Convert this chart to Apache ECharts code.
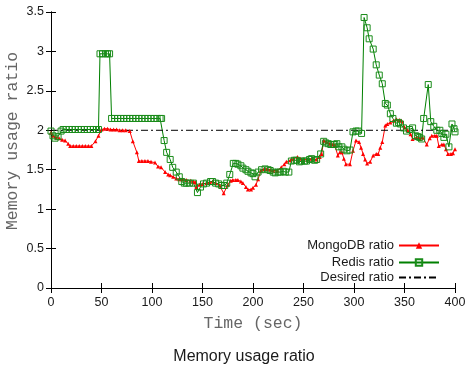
<!DOCTYPE html>
<html>
<head>
<meta charset="utf-8">
<script src="https://cdn.jsdelivr.net/npm/echarts@6/dist/echarts.min.js"></script>
<style>
  html, body { margin: 0; padding: 0; background: #fff; }
</style>
</head>
<body>
<div id="chart" style="width: 469px; height: 366px"></div>
<script>
const xTicks = [0, 50, 100, 150, 200, 250, 300, 350, 400]
const desiredRatio = 2
const yTitle = 'Memory usage ratio'

const mongoT = [0, 2, 5, 8, 11, 14, 17, 19, 22, 25, 28, 31, 34, 37, 40, 44, 47, 50, 53, 56, 59, 62, 65, 68, 71, 74, 78, 81, 85, 87,
  90, 93, 96, 99, 103, 106, 109, 113, 116, 118, 121, 124, 127, 130, 134, 138, 141, 143, 144, 147, 150, 154, 157, 160, 163, 167, 171, 175, 178, 180,
  183, 185, 188, 190, 193, 195, 198, 200, 203, 205, 208, 211, 214, 217, 220, 224, 228, 231, 233, 237, 240, 244, 247, 250, 254, 258, 263, 266, 268, 270,
  273, 276, 279, 281, 284, 286, 288, 290, 292, 296, 299, 302, 305, 307, 309, 311, 313, 316, 319, 322, 324, 326, 328, 331, 333, 336, 339, 342, 345, 347,
  350, 353, 356, 358, 362, 365, 368, 372, 375, 377, 380, 382, 384, 387, 389, 391, 393, 396, 398, 400]
const mongoV = [1.97, 1.93, 1.91, 1.90, 1.88, 1.87, 1.83, 1.80, 1.80, 1.80, 1.80, 1.80, 1.80, 1.80, 1.80, 1.86, 1.93, 2.01, 2.02, 2.02, 2.01, 2.01, 2.01, 2.00, 2.00, 2.00, 1.99, 1.86, 1.72, 1.61,
  1.61, 1.61, 1.61, 1.60, 1.59, 1.54, 1.53, 1.47, 1.44, 1.43, 1.41, 1.39, 1.38, 1.38, 1.37, 1.36, 1.35, 1.34, 1.28, 1.31, 1.32, 1.33, 1.34, 1.35, 1.33, 1.30, 1.20, 1.31, 1.36, 1.37,
  1.37, 1.37, 1.35, 1.33, 1.28, 1.25, 1.25, 1.27, 1.31, 1.38, 1.49, 1.51, 1.51, 1.50, 1.49, 1.49, 1.53, 1.57, 1.60, 1.62, 1.64, 1.66, 1.64, 1.63, 1.63, 1.64, 1.63, 1.66, 1.70, 1.87,
  1.85, 1.83, 1.82, 1.81, 1.68, 1.72, 1.72, 1.64, 1.57, 1.57, 1.74, 1.87, 1.85, 1.78, 1.70, 1.63, 1.58, 1.60, 1.68, 1.70, 1.70, 1.78, 1.85, 2.06, 2.08, 2.10, 2.12, 2.14, 2.13, 2.12,
  2.04, 2.00, 1.95, 1.89, 1.91, 1.89, 1.91, 1.82, 1.90, 1.93, 1.93, 1.93, 1.80, 1.82, 1.82, 1.76, 1.70, 1.70, 1.71, 1.76]

const redisT = [0, 2, 4, 7, 10, 12, 15, 18, 21, 24, 27, 30, 33, 36, 39, 42, 45, 47, 48.5, 51, 54, 56, 58, 60, 63, 66, 69, 72, 75, 78,
  81, 84, 87, 90, 93, 96, 99, 102, 105, 108, 109.5, 112, 114.5, 118, 120.5, 124, 127, 129.5, 132, 134, 137, 141, 145, 148, 151, 154, 158, 160, 163, 166,
  169, 172, 174, 177, 180.5, 183, 185, 188, 190, 193, 195, 198, 200, 202, 205, 208.5, 212, 215, 217, 220, 222, 225, 227, 230, 232, 235.5, 238, 241, 243, 246,
  248, 251, 253, 256, 258, 261, 263, 267, 270, 272, 274.5, 277, 279.5, 281, 283, 285, 288, 290, 293, 296, 299, 302, 304, 307.5, 310, 313, 315, 319, 322, 325,
  328, 331, 333, 336, 338.5, 342, 344, 346, 349, 352, 355, 358, 361, 363, 365, 367, 369, 373.5, 376, 379, 382, 385, 387, 389, 391, 394, 397, 399, 400]
const redisV = [1.99, 1.93, 1.90, 1.92, 1.99, 2.01, 2.01, 2.01, 2.01, 2.01, 2.01, 2.01, 2.01, 2.01, 2.01, 2.01, 2.01, 2.01, 2.97, 2.97, 2.97, 2.97, 2.97, 2.15, 2.15, 2.15, 2.15, 2.15, 2.15, 2.15,
  2.15, 2.15, 2.15, 2.15, 2.15, 2.15, 2.15, 2.15, 2.15, 2.15, 2.15, 1.87, 1.72, 1.63, 1.53, 1.47, 1.41, 1.35, 1.33, 1.33, 1.33, 1.33, 1.21, 1.28, 1.32, 1.33, 1.35, 1.35, 1.33, 1.32,
  1.30, 1.30, 1.33, 1.44, 1.58, 1.58, 1.57, 1.55, 1.52, 1.50, 1.48, 1.46, 1.45, 1.41, 1.47, 1.50, 1.51, 1.50, 1.49, 1.47, 1.46, 1.47, 1.47, 1.48, 1.47, 1.47, 1.61, 1.62, 1.62, 1.60,
  1.61, 1.61, 1.61, 1.63, 1.64, 1.62, 1.63, 1.70, 1.86, 1.84, 1.83, 1.82, 1.82, 1.82, 1.83, 1.79, 1.79, 1.76, 1.74, 1.75, 1.98, 1.99, 1.99, 1.96, 3.43, 3.30, 3.16, 3.03, 2.83, 2.70,
  2.59, 2.34, 2.32, 2.21, 2.15, 2.09, 2.10, 2.08, 2.03, 1.99, 2.01, 2.03, 1.93, 1.92, 1.91, 1.89, 2.15, 2.58, 2.11, 2.05, 2.00, 2.00, 1.96, 1.91, 1.95, 1.79, 2.08, 2.02, 1.98]

const chart = echarts.init(document.getElementById('chart'))

const pairs = (t, v) => t.map((x, i) => [x, v[i]])
const labelFont = { fontFamily: 'Liberation Sans, Arial, sans-serif', fontSize: 12.5, color: '#1a1a1a' }
const nameFont = { fontFamily: 'Liberation Mono, Courier New, monospace', fontSize: 16.5, color: '#666' }
const tick = { show: true, inside: true, length: 5, lineStyle: { color: '#000', width: 1 } }
const line = { show: true, lineStyle: { color: '#000', width: 1 } }

const legendItem = (name, top, extra) => ({
  right: 24,
  top: top,
  orient: 'vertical',
  align: 'right',
  itemWidth: 40,
  itemHeight: 8,
  data: [Object.assign({ name: name }, extra)],
  textStyle: { fontFamily: 'Liberation Sans, Arial, sans-serif', fontSize: 13, color: '#1a1a1a' },
})

const option = {
  animation: false,
  backgroundColor: '#fff',
  title: {
    text: 'Memory usage ratio',
    left: 239,
    top: 344,
    textAlign: 'center',
    textStyle: { fontFamily: 'Liberation Sans, Arial, sans-serif', fontSize: 16, fontWeight: 'normal', color: '#1a1a1a' },
  },
  // y axis title placed by hand (the axis name kept getting pushed away from the labels)
  graphic: [{
    type: 'text',
    x: 12.5,
    y: 141,
    rotation: Math.PI / 2,
    style: {
      text: yTitle,
      align: 'center',
      verticalAlign: 'middle',
      fontFamily: nameFont.fontFamily,
      fontSize: nameFont.fontSize,
      fill: nameFont.color,
    },
  }],
  grid: { left: 51, right: 14, top: 12, bottom: 78, outerBoundsMode: 'none' },
  legend: [
    legendItem('MongoDB ratio', 234),
    legendItem('Redis ratio', 251),
    legendItem('Desired ratio', 266, { itemStyle: { opacity: 0 } }),
  ],
  xAxis: [{
    type: 'value',
    min: 0,
    max: 400,
    interval: 50,
    name: 'Time (sec)',
    nameLocation: 'middle',
    nameGap: 27,
    nameTextStyle: nameFont,
    axisLine: line,
    axisTick: tick,
    axisLabel: Object.assign({ margin: 8 }, labelFont),
    splitLine: { show: false },
  }, {
    type: 'value',
    position: 'top',
    min: 0,
    max: 400,
    interval: 50,
    axisLine: line,
    axisTick: tick,
    axisLabel: { show: false },
    splitLine: { show: false },
  }],
  yAxis: [{
    type: 'value',
    min: 0,
    max: 3.5,
    interval: 0.5,
    axisLine: line,
    axisTick: tick,
    axisLabel: Object.assign({ margin: 7 }, labelFont),
    splitLine: { show: false },
  }, {
    type: 'value',
    position: 'right',
    min: 0,
    max: 3.5,
    interval: 0.5,
    axisLine: line,
    axisTick: tick,
    axisLabel: { show: false },
    splitLine: { show: false },
  }],
  series: [{
    name: 'MongoDB ratio',
    type: 'line',
    data: pairs(mongoT, mongoV),
    symbol: 'triangle',
    symbolSize: 4,
    showAllSymbol: true,
    lineStyle: { color: '#ff0000', width: 1 },
    itemStyle: { color: '#ff0000' },
  }, {
    name: 'Redis ratio',
    type: 'line',
    data: pairs(redisT, redisV),
    symbol: 'rect',
    symbolSize: 6,
    showAllSymbol: true,
    lineStyle: { color: '#008000', width: 1 },
    itemStyle: { color: 'rgba(255,255,255,0)', borderColor: '#1a8c1a', borderWidth: 1 },
  }, {
    name: 'Desired ratio',
    type: 'line',
    data: [[0, desiredRatio], [400, desiredRatio]],
    symbol: 'none',
    lineStyle: { color: '#000', width: 1, type: [7, 3, 2, 3] },
    itemStyle: { color: '#000' },
  }],
}

chart.setOption(option)
</script>
</body>
</html>
